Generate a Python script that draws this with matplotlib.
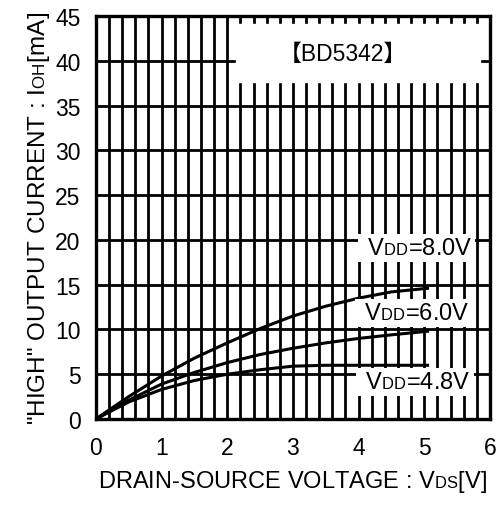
import matplotlib
matplotlib.use("Agg")
import matplotlib.pyplot as plt
import matplotlib.ticker as tick
import numpy as np

plt.rcParams['font.family'] = ['Liberation Sans', 'Noto Sans CJK JP', 'DejaVu Sans']
plt.rcParams['mathtext.fontset'] = 'custom'
plt.rcParams['mathtext.rm'] = 'Liberation Sans'
# keep the small "DD", "DS", "OH" letters sitting on the baseline
try:
    import matplotlib._mathtext as _mt
    _mt.FontConstantsBase.sub1 = 0.0
    _mt.FontConstantsBase.sub2 = 0.0
except Exception:
    pass

# drain-source voltage [V]
vds = [0, 0.5, 1.0, 1.5, 2.0, 2.5, 3.0, 3.5, 4.0, 4.5, 5.05]
# high output current [mA] for each supply voltage
ioh_80 = [0, 2.5, 4.8, 6.8, 8.5, 10.1, 11.5, 12.6, 13.5, 14.2, 14.6]
ioh_60 = [0, 2.1, 3.9, 5.2, 6.3, 7.2, 7.9, 8.5, 9.0, 9.4, 9.8]
ioh_48 = [0, 1.9, 3.3, 4.3, 5.0, 5.5, 5.9, 6.0, 6.0, 6.0, 6.0]

labels = [' V$_{\\mathregular{DD}}$=8.0V ', ' V$_{\\mathregular{DD}}$=6.0V ', ' V$_{\\mathregular{DD}}$=4.8V ']
label_pos = [(4.88, 19.1), (4.84, 11.85), (4.86, 4.1)]

xticks = [0, 1, 2, 3, 4, 5, 6]
yticks = [0, 5, 10, 15, 20, 25, 30, 35, 40, 45]

fig = plt.figure(figsize=(5.02, 5.06), dpi=100)
ax = fig.add_axes([0.191, 0.170, 0.785, 0.796])

ax.set_xlim(0, 6)
ax.set_ylim(0, 45)
ax.set_xticks(xticks)
ax.set_yticks(yticks)
ax.xaxis.set_minor_locator(tick.MultipleLocator(0.2))
ax.tick_params(which='both', length=0, labelsize=16.5)
ax.tick_params(axis='x', pad=12)
ax.tick_params(axis='y', pad=11)

ax.grid(which='minor', axis='x', color='black', lw=2.0)
ax.grid(which='major', axis='both', color='black', lw=2.0)
ax.set_axisbelow(True)
for s in ax.spines.values():
    s.set_linewidth(2.4)

for y in (ioh_80, ioh_60, ioh_48):
    ax.plot(vds, y, color='black', lw=2.2, zorder=3)

for t, (x, y) in zip(labels, label_pos):
    ax.text(x, y, t, fontsize=17, ha='center', va='center', zorder=4,
            bbox=dict(facecolor='white', edgecolor='none', boxstyle='square,pad=0.12'))

ax.text(3.76, 40.8, '【BD5342】', fontsize=16.5, ha='center', va='center', zorder=4)
# white block behind the title
ax.fill_between([2.13, 5.85], 37.7, 44.1, color='white', zorder=2.5)

ax.set_xlabel('DRAIN-SOURCE VOLTAGE : V$_{\\mathregular{DS}}$[V]', fontsize=17, labelpad=7)
ax.set_ylabel('"HIGH" OUTPUT CURRENT : I$_{\\mathregular{OH}}$[mA]', fontsize=17.5, labelpad=2)

fig.savefig('out.png', dpi=100)
